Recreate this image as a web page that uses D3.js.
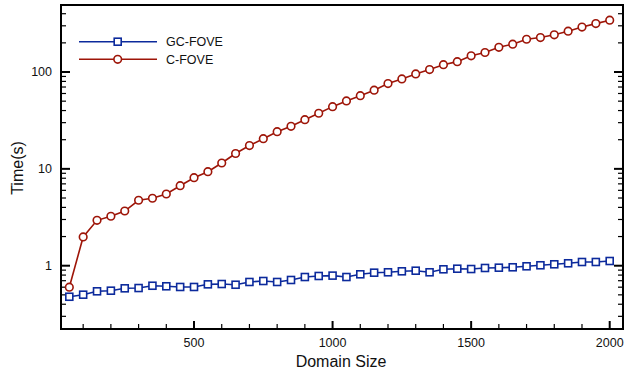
<!DOCTYPE html>
<html>
<head>
<meta charset="utf-8">
<script src="https://cdn.jsdelivr.net/npm/d3@7"></script>
<style>
  body { margin: 0; background: #fff; }
  text { font-family: "Liberation Sans", Arial, sans-serif; fill: #111; }
</style>
</head>
<body>
<svg id="chart" width="626" height="371"></svg>
<script>
// domain sizes (x)
const sizes = d3.range(50, 2001, 50);
// GC-FOVE times (s)
const gcFove = [0.478, 0.502, 0.544, 0.552, 0.584, 0.588, 0.621, 0.613, 0.603, 0.603,
  0.642, 0.647, 0.636, 0.679, 0.695, 0.679, 0.712, 0.764, 0.783, 0.79,
  0.764, 0.815, 0.847, 0.855, 0.875, 0.888, 0.855, 0.918, 0.931, 0.924,
  0.947, 0.954, 0.963, 0.986, 1.01, 1.034, 1.059, 1.092, 1.092, 1.118];
// C-FOVE times (s)
const cFove = [0.60, 1.98, 2.94, 3.24, 3.67, 4.74, 4.97, 5.5, 6.7, 8.1,
  9.35, 11.5, 14.4, 17.4, 20.5, 24.2, 27.5, 32.2, 37.5, 43.9,
  50.3, 57.0, 64.9, 75.9, 84.9, 95.6, 106, 119, 128, 147,
  159, 180, 194, 218, 227, 242, 264, 291, 316, 343];
const xTicks = [500, 1000, 1500, 2000];
const yTicks = [1, 10, 100];
const seriesNames = ["GC-FOVE", "C-FOVE"];

const svg = d3.select("#chart");
const pLeft = 61, pRight = 623, pTop = 5, pBottom = 329;

const x = d3.scaleLinear().domain([20, 2048]).range([pLeft, pRight]);
const y = d3.scaleLog().domain([0.222, 492]).range([pBottom, pTop]);

// minor ticks
const xMinor = d3.range(100, 2001, 100).filter(v => !xTicks.includes(v));
const yMinor = [];
[0.1, 1, 10, 100].forEach(d => { for (let k = 2; k <= 9; k++) { const v = d * k; if (v >= 0.222 && v <= 492) yMinor.push(v); } });

const ax = svg.append("g").attr("stroke", "#000").attr("fill", "none");
// frame
ax.append("rect").attr("x", pLeft).attr("y", pTop).attr("width", pRight - pLeft).attr("height", pBottom - pTop)
  .attr("stroke-width", 2);

// bottom ticks (inward)
ax.selectAll(null).data(xTicks).enter().append("line")
  .attr("x1", d => x(d)).attr("x2", d => x(d)).attr("y1", pBottom).attr("y2", pBottom - 8).attr("stroke-width", 2);
ax.selectAll(null).data(xMinor).enter().append("line")
  .attr("x1", d => x(d)).attr("x2", d => x(d)).attr("y1", pBottom).attr("y2", pBottom - 5).attr("stroke-width", 1.2);

// left and right ticks (inward)
[[pLeft, 1], [pRight, -1]].forEach(([x0, dir]) => {
  ax.selectAll(null).data(yTicks).enter().append("line")
    .attr("x1", x0).attr("x2", x0 + dir * 9).attr("y1", d => y(d)).attr("y2", d => y(d)).attr("stroke-width", 2);
  ax.selectAll(null).data(yMinor).enter().append("line")
    .attr("x1", x0).attr("x2", x0 + dir * 5).attr("y1", d => y(d)).attr("y2", d => y(d)).attr("stroke-width", 1.2);
});

// tick labels
svg.selectAll(null).data(xTicks).enter().append("text")
  .attr("x", d => x(d)).attr("y", 347).attr("text-anchor", "middle")
  .attr("font-size", 12.5).text(d => d);
svg.selectAll(null).data(yTicks).enter().append("text")
  .attr("x", 52).attr("y", d => y(d)).attr("dy", "0.35em").attr("text-anchor", "end")
  .attr("font-size", 12.5).text(d => d);

// axis titles
svg.append("text").attr("x", 341).attr("y", 367).attr("text-anchor", "middle")
  .attr("font-size", 16).text("Domain Size");
svg.append("text").attr("transform", "translate(23,168) rotate(-90)").attr("text-anchor", "middle")
  .attr("font-size", 16).text("Time(s)");

const colors = ["#0c2a9c", "#9e1508"];
const line = d3.line().x((d, i) => x(sizes[i])).y(d => y(d));

function drawSeries(data, color, shape) {
  svg.append("path").datum(data).attr("d", line)
    .attr("fill", "none").attr("stroke", color).attr("stroke-width", 1.6);
  const g = svg.append("g");
  if (shape === "square") {
    g.selectAll("rect").data(data).enter().append("rect")
      .attr("x", (d, i) => x(sizes[i]) - 3.5).attr("y", d => y(d) - 3.5)
      .attr("width", 7).attr("height", 7)
      .attr("fill", "#fff").attr("stroke", color).attr("stroke-width", 1.6);
  } else {
    g.selectAll("circle").data(data).enter().append("circle")
      .attr("cx", (d, i) => x(sizes[i])).attr("cy", d => y(d)).attr("r", 3.8)
      .attr("fill", "#fff").attr("stroke", color).attr("stroke-width", 1.6);
  }
}
drawSeries(gcFove, colors[0], "square");
drawSeries(cFove, colors[1], "circle");

// legend
const legY = [41.7, 59.3];
seriesNames.forEach((name, i) => {
  svg.append("line").attr("x1", 79).attr("x2", 157).attr("y1", legY[i]).attr("y2", legY[i])
    .attr("stroke", colors[i]).attr("stroke-width", 1.6);
  if (i === 0) {
    svg.append("rect").attr("x", 117.7 - 3.5).attr("y", legY[i] - 3.5).attr("width", 7).attr("height", 7)
      .attr("fill", "#fff").attr("stroke", colors[i]).attr("stroke-width", 1.6);
  } else {
    svg.append("circle").attr("cx", 117.7).attr("cy", legY[i]).attr("r", 3.8)
      .attr("fill", "#fff").attr("stroke", colors[i]).attr("stroke-width", 1.6);
  }
  svg.append("text").attr("x", 166).attr("y", legY[i]).attr("dy", "0.35em")
    .attr("font-size", 12.5).text(name);
});
</script>
</body>
</html>
